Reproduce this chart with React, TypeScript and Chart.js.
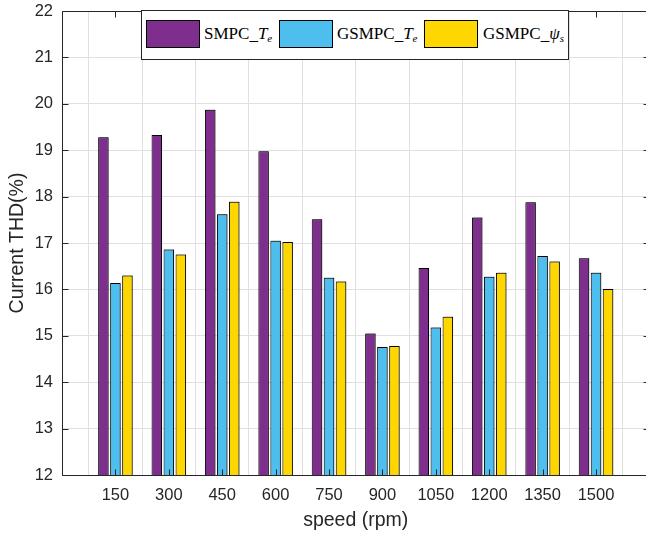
import React, { useEffect, useRef } from 'react';
import { Chart, registerables } from 'chart.js';

Chart.register(...registerables);

// ---- data ----
const categories = ['150', '300', '450', '600', '750', '900', '1050', '1200', '1350', '1500'];
const smpcTe = [19.28, 19.33, 19.87, 18.98, 17.51, 15.05, 16.46, 17.55, 17.88, 16.67];
const gsmpcTe = [16.14, 16.86, 17.62, 17.05, 16.25, 14.76, 15.18, 16.27, 16.72, 16.36];
const gsmpcPsi = [16.3, 16.75, 17.89, 17.02, 16.17, 14.78, 15.41, 16.36, 16.6, 16.01];
const yTicks = [12, 13, 14, 15, 16, 17, 18, 19, 20, 21, 22];
const seriesBase = ['SMPC', 'GSMPC', 'GSMPC'];
const seriesSym = ['T', 'T', 'ψ'];
const seriesSub = ['e', 'e', 's'];
const seriesColors = ['#7E2F8E', '#4DBEEE', '#FFD700'];
const xTitle = 'speed (rpm)';
const yTitle = 'Current THD(%)';

const AXIS = '#262626';
const GRID = '#e0e0e0';
const SANS = '"Liberation Sans", Arial, Helvetica, sans-serif';
const SERIF = '"Liberation Serif", "Times New Roman", serif';

const boxPlugin = {
  id: 'boxTicks',
  beforeDatasetsDraw(chart: any) {
    const ctx = chart.ctx;
    ctx.save();
    ctx.shadowColor = 'rgba(0,0,0,0.4)';
    ctx.shadowOffsetX = 1;
    ctx.shadowOffsetY = -1;
    ctx.shadowBlur = 0;
  },
  afterDatasetsDraw(chart: any) {
    const ctx = chart.ctx;
    ctx.restore();
    const { left, right, top, bottom } = chart.chartArea;
    const xs = chart.scales.x;
    const ys = chart.scales.y;
    const L = Math.round(left) + 0.5;
    const R = Math.round(right) + 0.5;
    const T = Math.round(top) + 0.5;
    const B = Math.round(bottom) + 0.5;
    const tl = 6;
    ctx.save();
    ctx.strokeStyle = AXIS;
    ctx.lineWidth = 1;
    ctx.beginPath();
    ctx.rect(L, T, R - L, B - T);
    for (let i = 1; i <= categories.length; i++) {
      const px = Math.round(xs.getPixelForValue(i)) + 0.5;
      ctx.moveTo(px, B);
      ctx.lineTo(px, B - tl);
      ctx.moveTo(px, T);
      ctx.lineTo(px, T + tl);
    }
    for (const v of yTicks) {
      const py = Math.round(ys.getPixelForValue(v)) + 0.5;
      ctx.moveTo(L, py);
      ctx.lineTo(L + tl, py);
      ctx.moveTo(R, py);
      ctx.lineTo(R - tl, py);
    }
    ctx.stroke();
    ctx.restore();
  },
};

export default function App() {
  const ref = useRef<HTMLCanvasElement | null>(null);

  useEffect(() => {
    if (!ref.current) return;
    const labels = ['', ...categories, ''];
    const pad = (arr: number[]) => [null, ...arr, null];
    const series = [smpcTe, gsmpcTe, gsmpcPsi];
    const chart = new Chart(ref.current, {
      type: 'bar',
      data: {
        labels,
        datasets: series.map((s, i) => ({
          label: seriesBase[i] + '_' + seriesSym[i] + seriesSub[i],
          data: pad(s) as any,
          backgroundColor: seriesColors[i],
          borderColor: '#000000',
          borderWidth: 1,
          borderSkipped: false,
          barPercentage: 0.875,
          categoryPercentage: 0.675,
        })),
      },
      options: {
        responsive: false,
        animation: false,
        devicePixelRatio: 1,
        layout: { padding: { left: 0, top: 11, right: 2.6, bottom: 0 } },
        plugins: {
          legend: { display: false },
          tooltip: { enabled: false },
        },
        scales: {
          x: {
            type: 'category',
            offset: false,
            grid: { color: GRID, drawTicks: false, lineWidth: 1 },
            border: { display: false },
            ticks: {
              autoSkip: false,
              maxRotation: 0,
              minRotation: 0,
              padding: 11,
              color: AXIS,
              font: { family: SANS, size: 16.5 },
            },
            title: {
              display: true,
              text: xTitle,
              color: AXIS,
              font: { family: SANS, size: 19.5 },
              padding: { top: 0, bottom: 4 },
            },
            afterFit: (s: any) => {
              s.height = 61;
              s.paddingLeft = 0;
              s.paddingRight = 0;
            },
          },
          y: {
            min: 12,
            max: 22,
            grid: { color: GRID, drawTicks: false, lineWidth: 1 },
            border: { display: false },
            ticks: {
              stepSize: 1,
              padding: 9,
              color: AXIS,
              font: { family: SANS, size: 16.5 },
            },
            title: {
              display: true,
              text: yTitle,
              color: AXIS,
              font: { family: SANS, size: 19.5 },
              padding: { top: 6, bottom: 0 },
            },
            afterFit: (s: any) => {
              s.width = 62;
              s.paddingTop = 0;
              s.paddingBottom = 0;
            },
          },
        },
      },
      plugins: [boxPlugin],
    });
    return () => chart.destroy();
  }, []);

  const swatchLeft = [146, 279, 424];
  const textLeft = [204, 337, 483];

  return (
    <div
      style={{
        position: 'fixed',
        left: 0,
        top: 0,
        width: 646,
        height: 536,
        overflow: 'hidden',
        background: '#ffffff',
      }}
    >
      <canvas ref={ref} width={652} height={536} style={{ display: 'block', width: 652, height: 536 }} />
      <div
        style={{
          position: 'absolute',
          left: 141,
          top: 10,
          width: 428,
          height: 50,
          boxSizing: 'border-box',
          border: `1px solid ${AXIS}`,
          background: '#ffffff',
        }}
      />
      {seriesBase.map((b, i) => (
        <React.Fragment key={i}>
          <div
            style={{
              position: 'absolute',
              left: swatchLeft[i],
              top: 20,
              width: 54,
              height: 28,
              boxSizing: 'border-box',
              border: '1px solid #000',
              background: seriesColors[i],
            }}
          />
          <div
            style={{
              position: 'absolute',
              left: textLeft[i],
              top: 20,
              height: 28,
              lineHeight: '28px',
              fontFamily: SERIF,
              fontSize: 17,
              color: '#000',
              whiteSpace: 'nowrap',
            }}
          >
            {b}
            <span style={{ position: 'relative', top: 1 }}>_</span>
            <i>{seriesSym[i]}</i>
            <sub style={{ fontSize: 11, verticalAlign: -3 }}>
              <i>{seriesSub[i]}</i>
            </sub>
          </div>
        </React.Fragment>
      ))}
    </div>
  );
}
